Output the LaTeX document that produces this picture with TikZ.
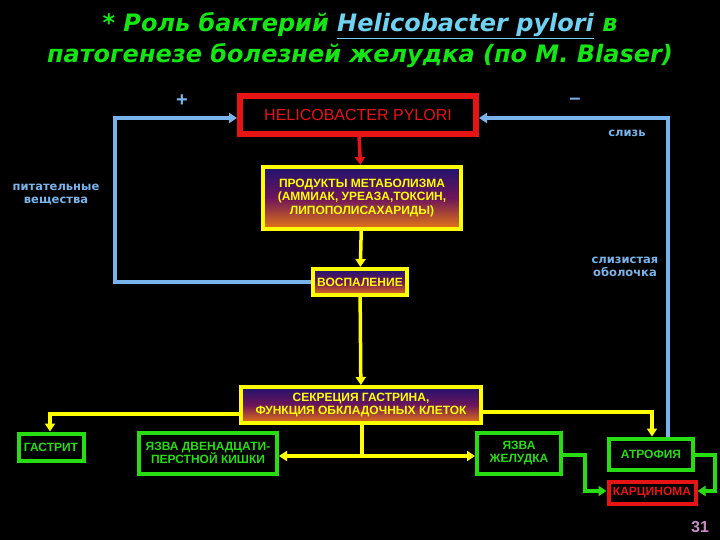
\documentclass[tikz,border=0pt]{standalone}
\usepackage{fontspec}
\setmainfont{Liberation Sans}
\newfontfamily\dvs{DejaVu Sans}
\usetikzlibrary{arrows.meta}
\definecolor{hpred}{RGB}{230,20,20}
\definecolor{ylw}{RGB}{255,255,0}
\definecolor{grn}{RGB}{40,220,20}
\definecolor{ttl}{RGB}{20,230,20}
\definecolor{cyn}{RGB}{110,210,240}
\definecolor{blu}{RGB}{120,180,235}
\definecolor{navy}{RGB}{30,20,110}
\definecolor{purp}{RGB}{110,20,90}
\definecolor{orng}{RGB}{230,120,20}
\begin{document}
\begin{tikzpicture}[x=1pt,y=-1pt,
 box/.style={draw,line width=4pt,align=center,font=\bfseries\fontsize{12}{13.5}\selectfont,inner sep=2pt},
 ybox/.style={box,draw=ylw,text=ylw,top color=navy,bottom color=orng,middle color=purp},
 gbox/.style={box,draw=grn,text=grn,fill=black},
 bl/.style={draw=blu,line width=3.5pt,-{Triangle[length=8pt,width=10pt]}},
 yl/.style={draw=ylw,line width=3.5pt,-{Triangle[length=8pt,width=10pt]}},
 gl/.style={draw=grn,line width=3.5pt,-{Triangle[length=8pt,width=10pt]}},
 lbl/.style={text=blu,font=\dvs\bfseries\fontsize{11.5}{13}\selectfont,align=center}]
\fill[black] (0,0) rectangle (720,540);
\useasboundingbox (0,0) rectangle (720,540);
\node[text=ttl,font=\dvs\bfseries\itshape\fontsize{24}{31}\selectfont,align=center] (title) at (360,40)
 {* Роль бактерий \textcolor{cyn}{\underline{Helicobacter pylori}} в\\патогенезе болезней желудка (по M. Blaser)};
\node[box,draw=hpred,line width=6pt,text=hpred,fill=black,minimum width=236,minimum height=38,font=\fontsize{16}{18}\selectfont] (hp) at (358,115) {HELICOBACTER PYLORI};
\node[ybox,minimum width=198,minimum height=62] (prod) at (362,198) {ПРОДУКТЫ МЕТАБОЛИЗМА\\(АММИАК, УРЕАЗА,ТОКСИН,\\ЛИПОПОЛИСАХАРИДЫ)};
\node[ybox,minimum width=94,minimum height=26] (inf) at (360,282) {ВОСПАЛЕНИЕ};
\node[ybox,minimum width=240,minimum height=36] (sec) at (361,405) {СЕКРЕЦИЯ ГАСТРИНА,\\ФУНКЦИЯ ОБКЛАДОЧНЫХ КЛЕТОК};
\node[gbox,minimum width=65,minimum height=27] (gas) at (51,447) {ГАСТРИТ};
\node[gbox,minimum width=138,minimum height=41] (duo) at (208,453) {ЯЗВА ДВЕНАДЦАТИ-\\ПЕРСТНОЙ КИШКИ};
\node[gbox,minimum width=84,minimum height=41] (sto) at (519,453) {ЯЗВА\\ЖЕЛУДКА};
\node[gbox,minimum width=84,minimum height=31] (atr) at (651,454) {АТРОФИЯ};
\node[box,draw=hpred,text=hpred,fill=black,minimum width=87,minimum height=22] (car) at (652,493) {КАРЦИНОМА};
\node[text=blu,font=\bfseries\fontsize{20}{20}\selectfont] (plus) at (182,101) {+};
\node[text=blu,font=\bfseries\fontsize{20}{20}\selectfont] (minus) at (575,101) {–};
\node[lbl] (mucus) at (627,133) {слизь};
\node[lbl] (mem) at (625,267) {слизистая\\оболочка};
\node[lbl] (nut) at (56,195) {питательные\\вещества};
\node[text=violet!45!white,font=\bfseries\fontsize{16}{16}\selectfont] (pg) at (700,527) {31};
% connectors
\draw[draw=hpred,line width=3.5pt,-{Triangle[length=8pt,width=10pt]}] (hp) -- (prod);
\draw[yl] (prod) -- (inf);
\draw[yl] (inf) -- (sec);
\draw[bl] (inf.west) -- (115,282) -- (115,118) -- (hp.west |- 0,118);
\draw[bl] (atr.north -| 668,0) -- (668,118) -- (hp.east |- 0,118);
\draw[yl] (sec.west |- 0,414) -- (50,414) -- (gas.north -| 50,0);
\draw[yl] (sec.east |- 0,412) -- (652,412) -- (atr.north -| 652,0);
\coordinate (mid) at (362,456);
\draw[draw=ylw,line width=3.5pt] (sec.south -| mid) -- (mid);
\draw[yl] (mid) -- (duo.east |- mid);
\draw[yl] (mid) -- (sto.west |- mid);
\draw[gl] (sto.east |- 0,455) -- (585,455) -- (585,491) -- (car.west |- 0,491);
\draw[gl] (atr.east |- 0,455) -- (715,455) -- (715,491) -- (car.east |- 0,491);
\end{tikzpicture}
\end{document}
